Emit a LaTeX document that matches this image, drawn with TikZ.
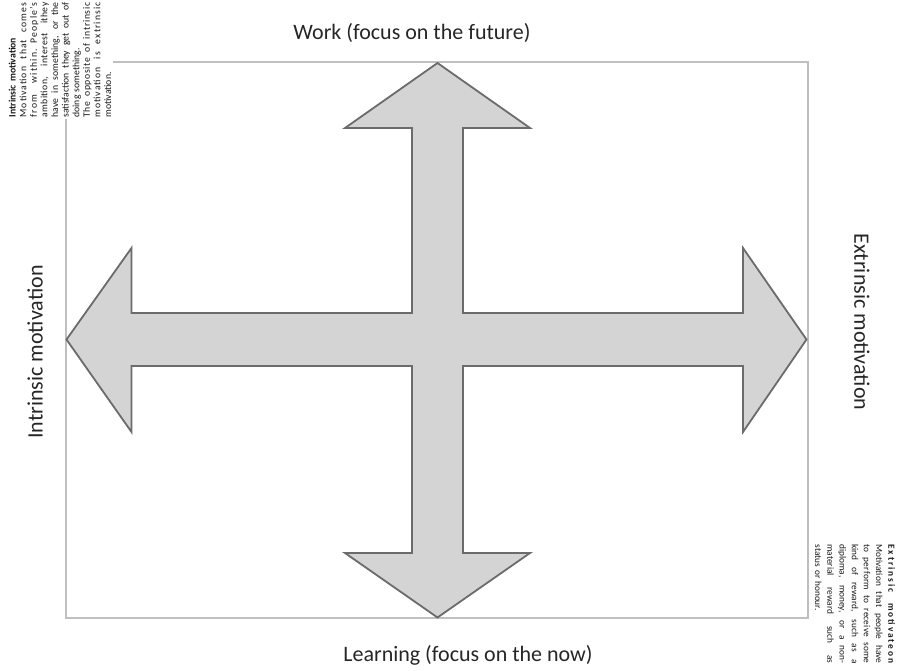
\documentclass[tikz,border=0pt]{standalone}
\usepackage{fontspec}
\setmainfont{Carlito}
\newcommand\jline[2][0]{\makebox[\hsize][s]{\addfontfeature{LetterSpace=#1}\spaceskip=.25em plus 1fil\relax #2}}
\begin{document}
\begin{tikzpicture}[x=1pt,y=-1pt,
  boxline/.style={draw=black!25,line width=2pt},
  bigarrow/.style={draw=black!58,fill=black!17,line width=1.8pt,line join=miter},
  biglabel/.style={font=\fontsize{22}{26}\selectfont,text=black!85},
  note/.style={fill=white,inner sep=2pt,align=left,text=black!90}]
\useasboundingbox (0,0) rectangle (897,671);
\draw[boxline] (66,62) rectangle (808,618);
\draw[bigarrow] (437.5,63) -- (530,128) -- (463,128) -- (463,313) -- (743,313) -- (743,248)
  -- (806.5,339.5) -- (743,432) -- (743,366) -- (463,366) -- (463,553) -- (530,553)
  -- (437.5,617.5) -- (345,553) -- (412,553) -- (412,366) -- (131.5,366) -- (131.5,432)
  -- (66.5,339.5) -- (131.5,248) -- (131.5,313) -- (412,313) -- (412,128) -- (345,128) -- cycle;
\node[biglabel] (work) at (412,33) {Work (focus on the future)};
\node[biglabel] (learn) at (468,655) {Learning (focus on the now)};
\node[biglabel,rotate=90] (intr) at (35,352) {Intrinsic motivation};
\node[biglabel,rotate=-90] (extr) at (862,322) {Extrinsic motivation};
\node[note,rotate=90,text width=115pt,font=\fontsize{9.7}{10.6}\selectfont] (intrnote) at (60,60)
  {\textbf{Intrinsic motivation}\\
   \jline[11]{Motivation that comes}\\
   \jline[13]{from within. People's}\\
   \jline[4]{ambition, interest ithey}\\
   \jline{have in something, or the}\\
   \jline{satisfaction they get out of}\\
   doing something.\\
   \jline[7]{The opposite of intrinsic}\\
   \jline[11]{motivation is extrinsic}\\
   motivation.};
\node[note,rotate=-90,text width=119pt,font=\fontsize{9.3}{12.2}\selectfont] (extrnote) at (855,604)
  {\jline[21]{\bfseries Extrinsic motivateon}\\
   \jline{Motivation that people have}\\
   \jline[2]{to perform to receive some}\\
   \jline{kind of reward, such as a}\\
   \jline{diploma, money, or a non-}\\
   \jline{material reward such as}\\
   status or honour.};
\end{tikzpicture}
\end{document}
